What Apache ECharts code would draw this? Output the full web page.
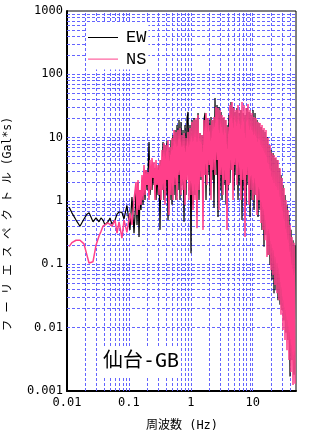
<!DOCTYPE html>
<html>
<head>
<meta charset="utf-8">
<script src="https://cdn.jsdelivr.net/npm/echarts@6/dist/echarts.min.js"></script>
<style>
html, body { margin: 0; padding: 0; background: #fff; }
#chart { width: 324px; height: 434px; }
</style>
</head>
<body>
<div id="chart"></div>
<script>
// low frequency part (smooth)
var freqLow = [0.0108,0.0120,0.0140,0.0162,0.0188,0.0210,0.0227,0.0244,0.0263,0.0294,0.0329,0.0354,0.0381,
    0.0410,0.0460,0.0495,0.0533,0.0596,0.0643,0.0693,0.0772,0.0833,0.0930,0.1040,0.1120,0.1209];
var ewLow = [0.80,0.65,0.50,0.40,0.52,0.62,0.65,0.56,0.47,0.54,0.47,0.54,0.50,
    0.42,0.47,0.54,0.43,0.50,0.62,0.67,0.66,0.52,0.85,0.35,1.16,0.31];
var nsLow = [0.19,0.22,0.24,0.24,0.21,0.14,0.105,0.105,0.11,0.20,0.28,0.33,0.40,
    0.43,0.45,0.47,0.40,0.50,0.31,0.47,0.26,0.50,0.32,0.65,0.42,1.04];

// dense part (0.125 - 48 Hz)
var freqHigh = [
    0.1255,0.1303,0.1352,0.1403,0.1456,0.1512,0.1569,0.1628,0.1690,0.1754,
    0.1820,0.1889,0.1961,0.2035,0.2112,0.2192,0.2275,0.2361,0.2451,0.2544,
    0.2640,0.2740,0.2844,0.2952,0.3064,0.3180,0.3300,0.3425,0.3555,0.3690,
    0.3830,0.3975,0.4125,0.4282,0.4444,0.4612,0.4787,0.4968,0.5157,0.5352,
    0.5555,0.5765,0.5984,0.6211,0.6446,0.6690,0.6944,0.7207,0.7480,0.7764,
    0.8058,0.8363,0.8680,0.9009,0.9350,0.9705,1.007,1.045,1.085,1.126,
    1.169,1.213,1.259,1.307,1.356,1.408,1.461,1.516,1.574,1.633,
    1.695,1.760,1.826,1.895,1.967,2.042,2.119,2.199,2.283,2.369,
    2.459,2.552,2.649,2.749,2.853,2.962,3.074,3.190,3.311,3.437,
    3.567,3.702,3.842,3.988,4.139,4.296,4.459,4.628,4.803,4.985,
    5.174,5.370,5.574,5.785,6.004,6.232,6.468,6.713,6.967,7.231,
    7.505,7.790,8.085,8.391,8.709,9.039,9.382,9.737,10.11,10.49,
    10.89,11.30,11.73,12.17,12.63,13.11,13.61,14.12,14.66,15.21,
    15.79,16.39,17.01,17.65,18.32,19.02,19.74,20.48,21.26,22.07,
    22.90,23.77,24.67,25.61,26.58,27.58,28.63,29.71,30.84,32.01,
    33.22,34.48,35.79,37.14,38.55,40.01,41.53,43.10,44.74,46.43,
    48.19];
var ewHigh = [
    0.60,1.49,0.42,1.92,0.27,1.49,0.72,2.15,0.87,2.87,
    1.04,3.09,1.49,2.58,8.55,1.24,3.09,1.49,3.70,1.79,
    3.32,1.04,3.09,1.24,3.70,0.35,4.44,1.49,8.55,1.04,
    7.66,1.24,8.86,0.50,6.87,1.04,9.19,0.87,11.0,1.24,
    13.2,1.04,15.8,1.49,19.0,1.04,17.7,1.79,13.2,0.47,
    15.8,1.24,20.4,25.5,1.49,15.8,0.15,19.0,0.87,20.4,
    1.24,19.0,0.60,24.6,1.04,11.8,2.15,11.0,1.24,19.0,
    24.6,1.04,20.4,2.58,19.0,1.24,21.2,2.15,19.0,0.78,
    42.3,2.58,32.8,0.56,30.6,1.49,25.5,1.04,20.4,1.79,
    19.0,0.87,15.8,1.49,22.8,1.92,36.5,3.09,30.6,1.49,
    25.5,2.58,29.5,1.04,24.6,1.79,27.4,0.50,24.6,1.49,
    22.8,0.87,29.5,1.79,25.5,0.56,22.8,1.04,27.4,0.72,
    24.6,1.24,19.0,0.56,17.0,0.72,14.7,0.35,13.2,0.19,
    12.3,0.29,10.2,0.14,7.66,0.098,6.39,0.057,5.7,0.035,
    4.78,0.039,4.44,0.027,3.32,0.023,2.58,0.019,1.79,0.013,
    1.24,0.0083,0.87,0.0064,0.60,0.0017,0.35,0.0031,0.24,0.0018,
    0.20];
var nsHigh = [
    1.04,1.99,0.60,2.15,0.72,1.49,0.87,2.58,1.04,3.70,
    1.24,3.09,1.79,2.87,1.04,4.44,1.49,4.78,2.32,4.13,
    1.04,4.44,1.79,3.70,1.24,4.44,1.04,6.39,1.49,8.24,
    0.87,7.66,2.15,9.19,0.60,7.12,1.24,9.9,1.04,13.2,
    1.79,12.3,1.04,13.2,2.58,14.2,1.24,11.0,1.49,11.8,
    0.87,9.9,2.15,12.3,1.04,14.2,1.24,17.7,0.72,19.0,
    1.04,20.4,0.37,22.8,1.49,11.8,2.4,11.0,0.35,19.0,
    2.58,24.6,1.79,20.4,3.7,15.8,1.04,19.0,3.09,21.2,
    2.58,30.6,4.44,29.5,0.72,27.4,2.58,22.8,1.24,21.2,
    2.15,19.0,0.35,14.7,1.79,32.8,3.09,36.5,1.04,29.5,
    3.7,27.4,1.79,32.8,2.58,27.4,1.04,36.5,2.15,32.8,
    0.27,29.5,2.58,34.0,0.87,27.4,1.49,24.6,1.04,21.2,
    1.24,20.4,0.60,17.7,1.04,17.0,0.45,15.8,0.35,14.2,
    0.24,13.2,0.13,9.9,0.14,7.66,0.081,5.7,0.068,5.3,
    0.047,4.9,0.035,4.44,0.027,3.3,0.016,2.3,0.0092,1.6,
    0.0064,1.04,0.0044,0.72,0.0031,0.42,0.002,0.27,0.00124,0.22,
    0.0013];

var xTickLabels = ['0.01', '0.1', '1', '10'];
var yTickLabels = ['0.001', '0.01', '0.1', '1', '10', '100', '1000'];

var freq = freqLow.concat(freqHigh);
var ew = ewLow.concat(ewHigh);
var ns = nsLow.concat(nsHigh);

function pairs(vals) {
    return freq.map(function (f, i) { return [f, vals[i]]; });
}

function decadeLabel(labels, firstExp) {
    return function (v) {
        var e = Math.log10(v);
        var k = Math.round(e);
        if (Math.abs(e - k) > 1e-6) return '';
        return labels[k - firstExp] || '';
    };
}

// dashed grid at every 1..9 step of each decade
var gridLines = [];
[0.01, 0.1, 1, 10].forEach(function (d) {
    for (var m = 1; m <= 9; m++) {
        var v = d * m;
        if (v > 0.01 && v < 50) gridLines.push({ xAxis: v });
    }
});
[0.001, 0.01, 0.1, 1, 10, 100].forEach(function (d) {
    for (var m = 1; m <= 9; m++) {
        var v = d * m;
        if (v > 0.001 && v < 1000) gridLines.push({ yAxis: v });
    }
});

var monoFont = '"DejaVu Sans Mono", "Noto Sans CJK JP"';

var chart = echarts.init(document.getElementById('chart'));
var option = {
    animation: false,
    grid: { left: 67, right: 28, top: 11, bottom: 43, show: true, borderColor: '#000', borderWidth: 1 },
    legend: {
        data: ['EW', 'NS'],
        orient: 'vertical',
        left: 87, top: 23,
        icon: 'rect',
        itemWidth: 30, itemHeight: 1, itemGap: 4.6,
        padding: [6, 2, 2, 1],
        backgroundColor: '#fff',
        selectedMode: false,
        textStyle: { fontFamily: 'Liberation Mono', fontSize: 17, lineHeight: 14, color: '#000', padding: [0, 0, 0, 3] }
    },
    xAxis: {
        type: 'log', logBase: 10, min: 0.01, max: 50,
        axisLine: { lineStyle: { color: '#000', width: 2 } },
        axisTick: { show: false },
        splitLine: { show: false },
        axisLabel: { formatter: decadeLabel(xTickLabels, -2), fontFamily: 'DejaVu Sans Mono', fontSize: 12, color: '#000', margin: 6 }
    },
    yAxis: {
        type: 'log', logBase: 10, min: 0.001, max: 1000,
        axisLine: { lineStyle: { color: '#000', width: 2 } },
        axisTick: { show: false },
        splitLine: { show: false },
        axisLabel: { formatter: decadeLabel(yTickLabels, -3), fontFamily: 'DejaVu Sans Mono', fontSize: 12, color: '#000', margin: 4 }
    },
    graphic: [
        { type: 'text', x: 8, y: 224, rotation: Math.PI / 2, z: 10,
          style: { text: 'フ ー リ エ ス ペ ク ト ル (Gal*s)', font: '11.5px ' + monoFont, fill: '#000',
                   textAlign: 'center', textVerticalAlign: 'middle', align: 'center', verticalAlign: 'middle' } },
        { type: 'text', x: 182, y: 426, z: 10,
          style: { text: '周波数 (Hz)', font: '12px ' + monoFont, fill: '#000',
                   textAlign: 'center', textVerticalAlign: 'middle', align: 'center', verticalAlign: 'middle' } },
        { type: 'text', x: 141, y: 362, z: 10,
          style: { text: '仙台-GB', font: '20px ' + monoFont, fill: '#000', backgroundColor: '#fff', padding: [5, 2],
                   textAlign: 'center', textVerticalAlign: 'middle', align: 'center', verticalAlign: 'middle' } }
    ],
    series: [
        {
            name: 'EW', type: 'line', data: pairs(ew),
            symbol: 'none', showSymbol: false,
            lineStyle: { color: '#000', width: 1.2 }, itemStyle: { color: '#000' },
            markLine: {
                z: 1, silent: true, symbol: 'none', animation: false,
                label: { show: false },
                lineStyle: { color: '#6464ff', width: 1, type: [3, 2] },
                emphasis: { disabled: true },
                data: gridLines
            }
        },
        {
            name: 'NS', type: 'line', data: pairs(ns),
            symbol: 'none', showSymbol: false,
            lineStyle: { color: '#ff3f8a', width: 1.5 }, itemStyle: { color: '#ff3f8a' }
        }
    ]
};
chart.setOption(option);
</script>
</body>
</html>
